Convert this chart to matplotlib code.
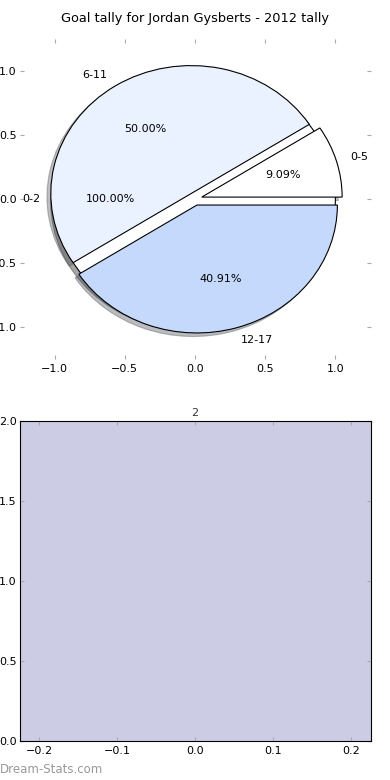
import matplotlib
matplotlib.use('Agg')
import matplotlib.pyplot as plt

# Données du camembert
tranches = ['0-5', '6-11', '12-17']
buts = [2, 11, 9]
couleurs = ['#ffffff', '#eaf1ff', '#c5d9fc']
eclatement = [0.05, 0.05, 0.05]

# Cercle de fond
fond_label = ['0-2']
fond_val = [1]

# Deuxième graphique
barre_x = [0]
barre_h = [2]

titre = 'Goal tally for Jordan Gysberts - 2012 tally'

fig = plt.figure(figsize=(3.9, 7.8), dpi=100)

# Camembert
ax1 = fig.add_axes([0.05, 0.54, 0.9, 0.41])
ax1.pie(fond_val, labels=fond_label, colors=['#ffffff'], autopct='%.2f%%',
        shadow=True, wedgeprops={'edgecolor': 'black', 'linewidth': 0.8},
        textprops={'fontsize': 8})
ax1.pie(buts, labels=tranches, colors=couleurs, explode=eclatement,
        autopct='%.2f%%', shadow={'alpha': 0.35},
        wedgeprops={'edgecolor': 'black', 'linewidth': 0.8},
        textprops={'fontsize': 8})
ax1.set_aspect('auto')
ax1.set_frame_on(False)
ax1.set_xlim(-1.25, 1.25)
ax1.set_ylim(-1.25, 1.25)
ax1.set_xticks([-1.0, -0.5, 0.0, 0.5, 1.0])
ax1.set_yticks([-1.0, -0.5, 0.0, 0.5, 1.0])
ax1.tick_params(direction='in', length=3, color='#aaaaaa', labelsize=8,
                top=True, right=True, pad=4)
ax1.tick_params(axis='y', pad=2)
ax1.set_title(titre, fontsize=9.3, pad=12)

# Barre
ax2 = fig.add_axes([0.05, 0.05, 0.9, 0.41])
ax2.bar(barre_x, barre_h, width=0.45, color='#cccce5', linewidth=0)
ax2.set_xlim(-0.225, 0.225)
ax2.set_ylim(0, 2)
ax2.set_xticks([-0.2, -0.1, 0.0, 0.1, 0.2])
ax2.set_yticks([0.0, 0.5, 1.0, 1.5, 2.0])
ax2.tick_params(direction='in', length=3, color='#aaaaaa', labelsize=8,
                top=True, right=True)
ax2.tick_params(axis='y', pad=2)
ax2.set_title('2', fontsize=8, color='#333333', pad=4)

fig.text(0.0, 0.005, 'Dream-Stats.com', fontsize=8.5, color='#999999',
         ha='left', va='bottom')

plt.savefig('out.png', dpi=100)
